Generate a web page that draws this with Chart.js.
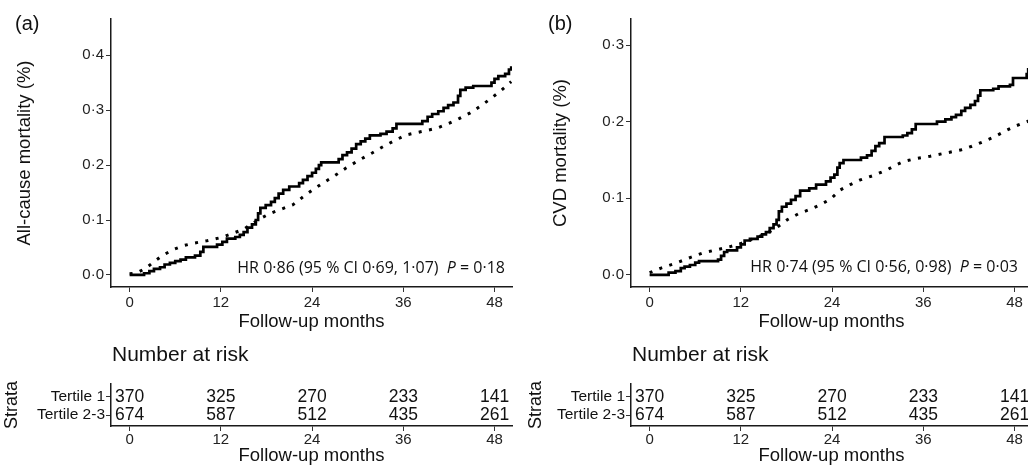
<!DOCTYPE html>
<html>
<head>
<meta charset="utf-8">
<script src="https://cdn.jsdelivr.net/npm/chart.js@4.4.1/dist/chart.umd.min.js"></script>
<style>
  html, body { margin: 0; padding: 0; background: #fff; overflow: hidden; }
  body { width: 1028px; height: 471px; position: relative; }
  canvas { position: absolute; }
</style>
</head>
<body>
<canvas id="mainA" width="514" height="335" style="left:0px;top:0px"></canvas>
<canvas id="riskA" width="514" height="136" style="left:0px;top:335px"></canvas>
<canvas id="mainB" width="518" height="335" style="left:514px;top:0px"></canvas>
<canvas id="riskB" width="518" height="136" style="left:514px;top:335px"></canvas>
<script>
// ---------- data ----------
const months = [0, 12, 24, 36, 48];
const strata = ['Tertile 1', 'Tertile 2-3'];
const riskTertile1 = [370, 325, 270, 233, 141];
const riskTertile23 = [674, 587, 512, 435, 261];

// (a) all-cause mortality, Tertile 1 (solid, step curve)
const allCauseT1Time = [0, 1.9, 2.6, 3.2, 4.0, 4.6, 5.3, 6.0, 6.7, 7.4, 8.6, 9.3, 9.7, 11.5, 12.2, 12.8, 13.9, 14.5, 15.0, 15.5,
  16.1, 16.6, 16.9, 17.2, 17.9, 18.6, 19.1, 19.6, 20.2, 21.0, 22.3, 22.8, 23.4, 24.0, 24.5, 24.9, 25.2, 27.5, 28.0, 28.6,
  29.2, 29.8, 30.4, 31.0, 31.6, 33.0, 33.8, 34.6, 35.1, 38.5, 39.2, 39.8, 40.6, 41.3, 41.9, 42.6, 43.2, 43.5, 44.2, 45.2,
  47.6, 48.0, 48.5, 49.4, 49.9, 50.2];
const allCauseT1Value = [0, 0.003, 0.007, 0.011, 0.014, 0.019, 0.022, 0.025, 0.028, 0.032, 0.035, 0.042, 0.051, 0.055, 0.060, 0.066, 0.069, 0.073, 0.078, 0.086,
  0.092, 0.100, 0.112, 0.122, 0.127, 0.133, 0.140, 0.148, 0.155, 0.161, 0.167, 0.173, 0.180, 0.186, 0.193, 0.200, 0.205, 0.211, 0.218, 0.223,
  0.230, 0.238, 0.243, 0.248, 0.254, 0.257, 0.261, 0.267, 0.275, 0.280, 0.288, 0.293, 0.298, 0.304, 0.309, 0.314, 0.326, 0.337, 0.341, 0.344,
  0.350, 0.357, 0.362, 0.366, 0.374, 0.380];

// (a) all-cause mortality, Tertile 2-3 (dotted)
const allCauseT23Time = [0, 1.0, 2.2, 3.3, 4.4, 5.7, 7.0, 8.5, 10.1, 12.0, 13.6, 15.0, 16.3, 17.4, 18.5, 20.0, 21.5, 22.8,
  24.1, 25.4, 26.8, 28.5, 30.3, 31.9, 33.4, 34.9, 36.4, 38.4, 40.4, 42.0, 43.4, 44.8, 46.1, 47.4, 48.7, 50.2];
const allCauseT23Value = [0.002, 0.004, 0.013, 0.025, 0.036, 0.046, 0.053, 0.058, 0.062, 0.068, 0.076, 0.083, 0.095, 0.104, 0.112, 0.120, 0.128, 0.142,
  0.155, 0.167, 0.179, 0.195, 0.210, 0.222, 0.234, 0.245, 0.255, 0.261, 0.267, 0.276, 0.285, 0.295, 0.307, 0.320, 0.334, 0.352];

// (b) CVD mortality, Tertile 1 (solid, step curve)
const cvdT1Time = [0, 2.5, 3.4, 4.1, 4.6, 5.3, 6.0, 6.5, 9.0, 9.4, 9.8, 10.2, 11.5, 12.0, 12.5, 13.2, 14.2, 14.8, 15.3, 15.8,
  16.3, 16.7, 17.0, 17.4, 18.0, 18.6, 19.2, 19.8, 21.0, 21.9, 23.2, 23.8, 24.3, 24.7, 25.0, 25.5, 27.8, 28.6, 29.2, 29.7,
  30.2, 30.9, 33.3, 33.9, 34.5, 35.0, 37.8, 38.9, 39.7, 40.3, 41.0, 41.5, 42.2, 42.8, 43.2, 43.5, 45.2, 45.9, 47.4, 47.8,
  49.6, 49.8];
const cvdT1Value = [0, 0.003, 0.005, 0.009, 0.011, 0.013, 0.016, 0.018, 0.020, 0.025, 0.030, 0.032, 0.036, 0.040, 0.045, 0.047, 0.050, 0.053, 0.056, 0.061,
  0.066, 0.072, 0.083, 0.089, 0.093, 0.098, 0.103, 0.110, 0.113, 0.118, 0.122, 0.127, 0.131, 0.140, 0.146, 0.150, 0.153, 0.156, 0.162, 0.168,
  0.172, 0.180, 0.182, 0.185, 0.190, 0.197, 0.200, 0.203, 0.206, 0.209, 0.214, 0.218, 0.222, 0.227, 0.234, 0.241, 0.243, 0.246, 0.248, 0.257,
  0.262, 0.270];

// (b) CVD mortality, Tertile 2-3 (dotted)
const cvdT23Time = [0, 1.5, 3.6, 5.4, 7.1, 8.9, 10.6, 12.0, 13.3, 14.6, 15.9, 17.0, 18.1, 19.6, 21.2, 22.5, 23.8, 25.1,
  26.4, 27.7, 29.5, 31.2, 32.3, 33.4, 35.1, 36.9, 38.9, 40.9, 42.4, 43.9, 45.5, 47.0, 48.3, 49.9];
const cvdT23Value = [0.003, 0.009, 0.016, 0.023, 0.029, 0.033, 0.037, 0.041, 0.046, 0.051, 0.057, 0.064, 0.072, 0.080, 0.086, 0.092, 0.099, 0.111,
  0.118, 0.124, 0.130, 0.137, 0.143, 0.148, 0.152, 0.155, 0.159, 0.163, 0.168, 0.174, 0.181, 0.189, 0.195, 0.201];

const allCauseTicks = [0, 0.1, 0.2, 0.3, 0.4];
const cvdTicks = [0, 0.1, 0.2, 0.3];

// ---------- helpers ----------
const SANS = "'Liberation Sans', Arial, Helvetica, sans-serif";
const HUMANIST = "'Open Sans', 'Noto Sans', sans-serif";
const INK = '#111';
const TICK_INK = '#222';

const toPoints = (times, values) => times.map((t, i) => ({ x: t, y: values[i] }));
const fixedTicks = values => scale => { scale.ticks = values.map(v => ({ value: v })); };
const midDot = v => v.toFixed(1).replace('.', '\u00b7');

const axisGrid = { display: true, drawOnChartArea: false, drawTicks: true, tickLength: 5, tickColor: '#333', lineWidth: 1 };
const axisBorder = { display: true, color: '#1a1a1a', width: 1.5 };

// texts drawn on top of a chart: plain strings and mixed-style runs
const panelText = {
    id: 'panelText',
    afterDraw(chart, args, opts) {
        const ctx = chart.ctx;
        ctx.save();
        ctx.fillStyle = INK;
        (opts.items || []).forEach(item => {
            ctx.textBaseline = 'middle';
            if (item.runs) {
                // right aligned sequence of runs
                let x = item.x;
                for (let i = item.runs.length - 1; i >= 0; i--) {
                    const run = item.runs[i];
                    ctx.font = run.font;
                    x -= ctx.measureText(run.text).width;
                    ctx.textAlign = 'left';
                    ctx.fillText(run.text, x, item.y);
                }
            } else {
                ctx.font = item.font;
                ctx.textAlign = item.align || 'left';
                ctx.fillText(item.text, item.x, item.y);
            }
        });
        ctx.restore();
    }
};

// numbers at risk placed through the table's scales
const riskNumbers = {
    id: 'riskNumbers',
    afterDatasetsDraw(chart, args, opts) {
        const { ctx, scales: { x, y } } = chart;
        ctx.save();
        ctx.font = opts.font;
        ctx.fillStyle = INK;
        ctx.textAlign = 'center';
        ctx.textBaseline = 'middle';
        opts.rows.forEach((row, r) => {
            row.forEach((n, i) => {
                ctx.fillText(String(n), x.getPixelForValue(months[i]), y.getPixelForValue(r + 1));
            });
        });
        ctx.restore();
    }
};

function xScale(height, tickPad, titlePad) {
    return {
        type: 'linear', min: -2.45, max: 50.3,
        afterBuildTicks: fixedTicks(months),
        afterFit: s => { s.height = height; },
        grid: axisGrid, border: axisBorder,
        ticks: { color: TICK_INK, font: { family: SANS, size: 15 }, padding: tickPad, maxRotation: 0, autoSkip: false },
        title: { display: true, text: 'Follow-up months', color: INK, font: { family: SANS, size: 18.5 }, padding: { top: 0, bottom: titlePad } }
    };
}

function hrRuns(head, p) {
    const normal = `16px ${HUMANIST}`;
    return [
        { text: head + '  ', font: normal },
        { text: 'P', font: `italic 16px ${HUMANIST}` },
        { text: ' = ' + p, font: normal }
    ];
}

function survivalChart(id, cfg) {
    return new Chart(document.getElementById(id), {
        type: 'line',
        data: {
            datasets: [
                { data: toPoints(cfg.t1Time, cfg.t1Value), stepped: true, borderColor: '#000', borderWidth: 2.7, pointRadius: 0, fill: false },
                { data: toPoints(cfg.t23Time, cfg.t23Value), borderColor: '#000', borderWidth: 3, borderDash: [3, 7.5], borderCapStyle: 'butt', pointRadius: 0, tension: 0, fill: false }
            ]
        },
        options: {
            responsive: false, animation: false, events: [],
            layout: { padding: { left: 0, top: 19, right: cfg.padRight, bottom: 0 } },
            plugins: {
                legend: { display: false },
                tooltip: { enabled: false },
                panelText: {
                    items: [
                        { text: cfg.label, x: cfg.labelX, y: 24, font: `20px ${SANS}` },
                        { runs: hrRuns(cfg.hr, cfg.p), x: cfg.hrX, y: cfg.hrY }
                    ]
                }
            },
            scales: {
                x: xScale(48, 2, 2),
                y: {
                    type: 'linear', min: cfg.yMin, max: cfg.yMax,
                    afterBuildTicks: fixedTicks(cfg.yTicks),
                    afterFit: s => { s.width = cfg.axisWidth; },
                    grid: axisGrid, border: axisBorder,
                    ticks: { color: TICK_INK, font: { family: SANS, size: 15 }, padding: 2, callback: v => midDot(v) },
                    title: { display: true, text: cfg.yTitle, color: INK, font: { family: SANS, size: 18.5 }, padding: { top: cfg.titleOffset, bottom: 0 } }
                }
            }
        },
        plugins: [panelText]
    });
}

function riskTable(id, cfg) {
    return new Chart(document.getElementById(id), {
        type: 'line',
        data: { datasets: [] },
        options: {
            responsive: false, animation: false, events: [],
            layout: { padding: { left: 0, top: 49, right: cfg.padRight, bottom: 0 } },
            plugins: {
                legend: { display: false },
                tooltip: { enabled: false },
                riskNumbers: { rows: [riskTertile1, riskTertile23], font: `17.5px ${SANS}` },
                panelText: { items: [{ text: 'Number at risk', x: cfg.titleX, y: 20, font: `21px ${SANS}` }] }
            },
            scales: {
                x: xScale(45, 0, 4),
                y: {
                    type: 'linear', min: 0.28, max: 2.61, reverse: true,
                    afterBuildTicks: fixedTicks([1, 2]),
                    afterFit: s => { s.width = cfg.axisWidth; },
                    grid: axisGrid, border: axisBorder,
                    ticks: { color: INK, font: { family: SANS, size: 15.5 }, padding: 1, callback: v => strata[v - 1] },
                    title: { display: true, text: 'Strata', color: INK, font: { family: SANS, size: 18 }, padding: { top: cfg.titleOffset, bottom: 0 } }
                }
            }
        },
        plugins: [riskNumbers, panelText]
    });
}

// ---------- charts ----------
survivalChart('mainA', {
    t1Time: allCauseT1Time, t1Value: allCauseT1Value,
    t23Time: allCauseT23Time, t23Value: allCauseT23Value,
    yMin: -0.022, yMax: 0.466, yTicks: allCauseTicks,
    yTitle: 'All-cause mortality (%)', titleOffset: 14,
    axisWidth: 111, padRight: 2,
    label: '(a)', labelX: 15,
    hr: 'HR 0\u00b786 (95 % CI 0\u00b769, 1\u00b707)', p: '0\u00b718', hrX: 505, hrY: 268
});

survivalChart('mainB', {
    t1Time: cvdT1Time, t1Value: cvdT1Value,
    t23Time: cvdT23Time, t23Value: cvdT23Value,
    yMin: -0.0157, yMax: 0.334, yTicks: cvdTicks,
    yTitle: 'CVD mortality (%)', titleOffset: 36,
    axisWidth: 117, padRight: 0,
    label: '(b)', labelX: 34,
    hr: 'HR 0\u00b774 (95 % CI 0\u00b756, 0\u00b798)', p: '0\u00b703', hrX: 504, hrY: 267
});

riskTable('riskA', { axisWidth: 111, padRight: 2, titleOffset: 1, titleX: 112 });
riskTable('riskB', { axisWidth: 117, padRight: 0, titleOffset: 11, titleX: 118 });
</script>
</body>
</html>
